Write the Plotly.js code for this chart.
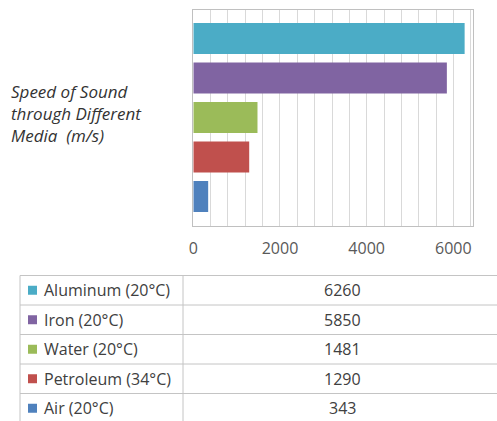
<!DOCTYPE html>
<html>
<head>
<meta charset="utf-8">
<script src="https://cdn.plot.ly/plotly-3.0.1.min.js"></script>
<style>html,body{margin:0;padding:0;background:#fff;}#chart{width:497px;height:421px;}</style>
</head>
<body>
<div id="chart"></div>
<script>
// Data
const media = ['Aluminum (20°C)', 'Iron (20°C)', 'Water (20°C)', 'Petroleum (34°C)', 'Air (20°C)'];
const speeds = [6260, 5850, 1481, 1290, 343];
const xTickValues = [0, 2000, 4000, 6000];
const chartTitle = 'Speed of Sound<br>through Different<br>Media  (m/s)';

// Styles
const barColors = ['#4bacc6', '#8064a2', '#9bbb59', '#c0504d', '#4f81bd'];
const W = 497, H = 421;
const font = 'Open Sans, sans-serif';

// Data-table geometry (pixels)
const tbl = {left: 20, divider: 183, right: 503, top: 275.5, rowH: 29.5};
const px = x => x / W;
const py = y => 1 - y / H;

const bars = {
  type: 'bar',
  orientation: 'h',
  y: media,
  x: speeds,
  width: 0.785,
  marker: {color: barColors},
  hoverinfo: 'x+y',
  showlegend: false
};

const shapes = [];
const annotations = [];
const lineStyle = {color: '#c4c4c4', width: 1};
// table frame
shapes.push({type: 'line', xref: 'paper', yref: 'paper', x0: px(tbl.left), x1: px(tbl.right), y0: py(tbl.top), y1: py(tbl.top), line: lineStyle});
const tblBottom = tbl.top + tbl.rowH * media.length;
shapes.push({type: 'line', xref: 'paper', yref: 'paper', x0: px(tbl.left), x1: px(tbl.left), y0: py(tbl.top), y1: py(tblBottom), line: lineStyle});
shapes.push({type: 'line', xref: 'paper', yref: 'paper', x0: px(tbl.divider), x1: px(tbl.divider), y0: py(tbl.top), y1: py(tblBottom), line: lineStyle});

media.forEach((m, i) => {
  const rTop = tbl.top + i * tbl.rowH;
  const rMid = rTop + tbl.rowH / 2;
  const rBot = rTop + tbl.rowH;
  shapes.push({type: 'line', xref: 'paper', yref: 'paper', x0: px(tbl.left), x1: px(tbl.right), y0: py(rBot), y1: py(rBot), line: lineStyle});
  // legend swatch
  shapes.push({type: 'rect', xref: 'paper', yref: 'paper',
    x0: px(28), x1: px(37), y0: py(rMid - 4.5), y1: py(rMid + 4.5),
    fillcolor: barColors[i], line: {width: 0}});
  annotations.push({xref: 'paper', yref: 'paper', x: px(41.5), y: py(rMid), xanchor: 'left', yanchor: 'middle',
    text: m, showarrow: false, font: {family: font, size: 16, color: '#404040'}});
  annotations.push({xref: 'paper', yref: 'paper', x: px(342), y: py(rMid), xanchor: 'center', yanchor: 'middle',
    text: String(speeds[i]), showarrow: false, font: {family: font, size: 16, color: '#404040'}});
});

const layout = {
  width: W, height: H,
  margin: {l: 0, r: 0, t: 0, b: 0},
  paper_bgcolor: '#ffffff',
  plot_bgcolor: '#ffffff',
  font: {family: font, color: '#404040'},
  title: {
    text: chartTitle,
    font: {family: font, size: 17, color: '#333333', style: 'italic'},
    x: 11 / W, xanchor: 'left', xref: 'paper',
    y: 1 - 98 / H, yanchor: 'middle', yref: 'paper'
  },
  xaxis: {
    domain: [193.3 / W, 473.3 / W],
    range: [0, 6460],
    tickvals: xTickValues,
    ticktext: xTickValues.map(String),
    tickfont: {family: font, size: 16, color: '#595959'},
    showgrid: true, gridcolor: '#d9d9d9', gridwidth: 1,
    minor: {dtick: 400, tick0: 0, showgrid: true, gridcolor: '#d9d9d9', gridwidth: 1},
    showline: true, linecolor: '#c0c0c0', linewidth: 1, mirror: true,
    zeroline: false, ticks: '', ticklabelstandoff: 8,
    fixedrange: true
  },
  yaxis: {
    domain: [1 - 226 / H, 1 - 10 / H],
    type: 'category',
    categoryorder: 'array', categoryarray: media,
    range: [4.75, -0.72],
    showticklabels: false, ticks: '',
    showgrid: false, zeroline: false,
    showline: true, linecolor: '#c0c0c0', linewidth: 1, mirror: true,
    fixedrange: true
  },
  shapes: shapes,
  annotations: annotations
};

Plotly.newPlot('chart', [bars], layout, {displayModeBar: false, staticPlot: true});
</script>
</body>
</html>
